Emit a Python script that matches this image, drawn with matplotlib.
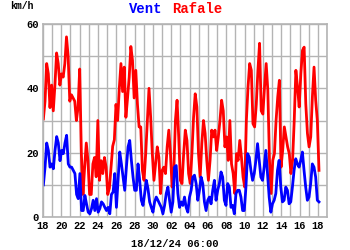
import numpy as np
import pandas as pd
import matplotlib
matplotlib.use("Agg")
import matplotlib.pyplot as plt
import matplotlib.dates as mdates

# wind (Vent) and gust (Rafale) speeds, km/h, roughly every 4h20 from 18/11 to 18/12
vent = [10, 15.5, 23, 20.7, 15.5, 16.5, 15, 20.7, 25, 23, 17.5, 20.7, 19.7, 23, 25.4,
        16.5, 15.5, 15.5, 14.5, 13.5, 7, 5.7, 13.5, 2, 2, 6.7, 4, 1.5, 1, 2.6,
        5.2, 2, 5.7, 1.5, 2.6, 4.7, 4.1, 3, 2, 3, 1, 7, 7.8, 13.5, 3,
        11.4, 20.2, 16.5, 12.4, 8.3, 15.5, 21.8, 23.8, 17.6, 12.4, 8.3, 8.3, 16.5,
        11.4, 5.2, 3.6, 7.3, 11.4, 8.8, 4.7, 3, 1.5, 4.7, 6.2, 5.2, 4.1, 3, 1,
        3.6, 7.3, 9.3, 5.2, 1.5, 4.7, 15.5, 16, 7.3, 3, 4.7, 3.6, 6.2, 3, 1.5,
        6.2, 8.3, 12.4, 13, 10.4, 5.2, 8.3, 12.4, 10.4, 4.7, 2, 5.2, 6.2, 4.1,
        8.3, 11.4, 5.2, 8.3, 10.4, 14, 12.4, 5.2, 3.6, 10.4, 9.3, 3, 3.6, 1, 7.3, 8.3,
        8.3, 6.2, 2, 2, 9.3, 19.7, 18.6, 14.5, 11.4, 13.5, 17.6, 22.8, 17.6, 12.4,
        11.4, 15.5, 20.7, 13.5, 6.2, 1.5, 4.1, 5.2, 7.3, 14.5, 17.6, 9.3, 4.7, 5.2,
        9.3, 8.3, 4.1, 4.7, 9.3, 14.5, 18.1, 16.5, 15.5, 17.6, 20.2, 14.5, 9.3, 5.2,
        6.2, 10.4, 16.5, 15.5, 12.4, 5.2, 4.7]
rafale = [30.5, 36, 47.7, 44.5, 34, 41, 33, 41, 51, 47.7, 41, 44.5, 43.5, 47.7, 56,
          50, 36, 38, 37, 36, 30, 34, 46, 20, 7, 15.5, 23, 17.5, 7, 7,
          16.5, 18.5, 12.5, 30, 11.4, 17.5, 13.5, 18.5, 15.5, 7, 9, 15.5, 22, 24, 35,
          30, 40, 47.7, 39, 46.6, 31, 37, 43.5, 53, 48.7, 37, 45.6, 35, 28,
          28, 14.5, 11.4, 19.7, 30, 40, 31, 19.7, 11.4, 16.5, 21.8, 18.5, 7.3, 14.5,
          15.5, 13.5, 21.8, 27, 19.7, 9.3, 13.5, 30, 36.3, 24.9, 11.4, 10.4, 19.7, 27,
          23.8, 13.5, 10.4, 19.7, 31, 38.3, 34.2, 19.7, 12.4, 22.8, 30, 26, 17.6, 11.4,
          17.6, 27, 24.9, 27, 20.7, 24.9, 30, 36.3, 33, 21.8, 24.9, 17.6, 30, 16.5, 13.5,
          7.3, 19.7, 17.6,
          23.8, 18.6, 12.4, 9.3, 30, 40.4, 47.7, 45.6, 29, 28, 35, 45.6, 54, 33,
          32, 40.4, 47.7, 39.4, 17.6, 7.3, 17.6, 19.7, 30, 37.3, 42.5, 15.5, 20.7, 28,
          24.9, 21.8, 19.7, 13.5, 17.6, 30, 45.6, 40.4, 34.2, 44.5, 51.8, 52.8, 35.2,
          26, 21.8, 24.9, 37.3, 46.6, 36.3, 30, 14.5]

t_start, t_end = "2024-11-18 01:00", "2024-12-18 03:00"
t_vent = pd.date_range(t_start, t_end, periods=len(vent))
t_rafale = pd.date_range(t_start, t_end, periods=len(rafale))

fig = plt.figure(figsize=(3.5, 2.5), dpi=100)
ax = fig.add_axes([43 / 350, 1 - 217 / 250, 284 / 350, 193 / 250])

grid_col = "#b4b4b4"
ax.plot(t_rafale, rafale, color="#ff0000", lw=2)
ax.plot(t_vent, vent, color="#0000ff", lw=2)

ax.set_xlim(pd.Timestamp("2024-11-18"), pd.Timestamp("2024-12-19"))
ax.set_ylim(0, 60)
ax.xaxis.set_major_locator(mdates.DayLocator(interval=2))
ax.xaxis.set_minor_locator(mdates.DayLocator())
ax.xaxis.set_major_formatter(mdates.DateFormatter("%d"))
ax.set_yticks([0, 20, 40, 60])
ax.set_yticks(range(0, 61, 10), minor=True)
ax.grid(True, which="both", color=grid_col, lw=1)
ax.set_axisbelow(True)
for s in ax.spines.values():
    s.set_color(grid_col)
    s.set_linewidth(1.2)
ax.tick_params(which="both", length=0, pad=3)

mono = "Liberation Mono"
for lab in ax.get_xticklabels() + ax.get_yticklabels():
    lab.set_fontfamily(mono)
    lab.set_fontweight("bold")
    lab.set_fontsize(7.5)

fig.text(129 / 350, 1 - 9 / 250, "Vent", color="#0000ff", family=mono,
         weight="bold", fontsize=10, va="center", ha="left")
fig.text(172 / 350, 1 - 9 / 250, "Rafale", color="#ff0000", family=mono,
         weight="bold", fontsize=10, va="center", ha="left")
fig.text(10 / 350, 1 - 6 / 250, "km/h", color="black", family=mono,
         weight="bold", fontsize=7, va="center", ha="left")
fig.text(175 / 350, 1 - 244 / 250, "18/12/24 06:00", color="black", family=mono,
         weight="bold", fontsize=7.5, va="center", ha="center")

fig.savefig("out.png", dpi=100)
